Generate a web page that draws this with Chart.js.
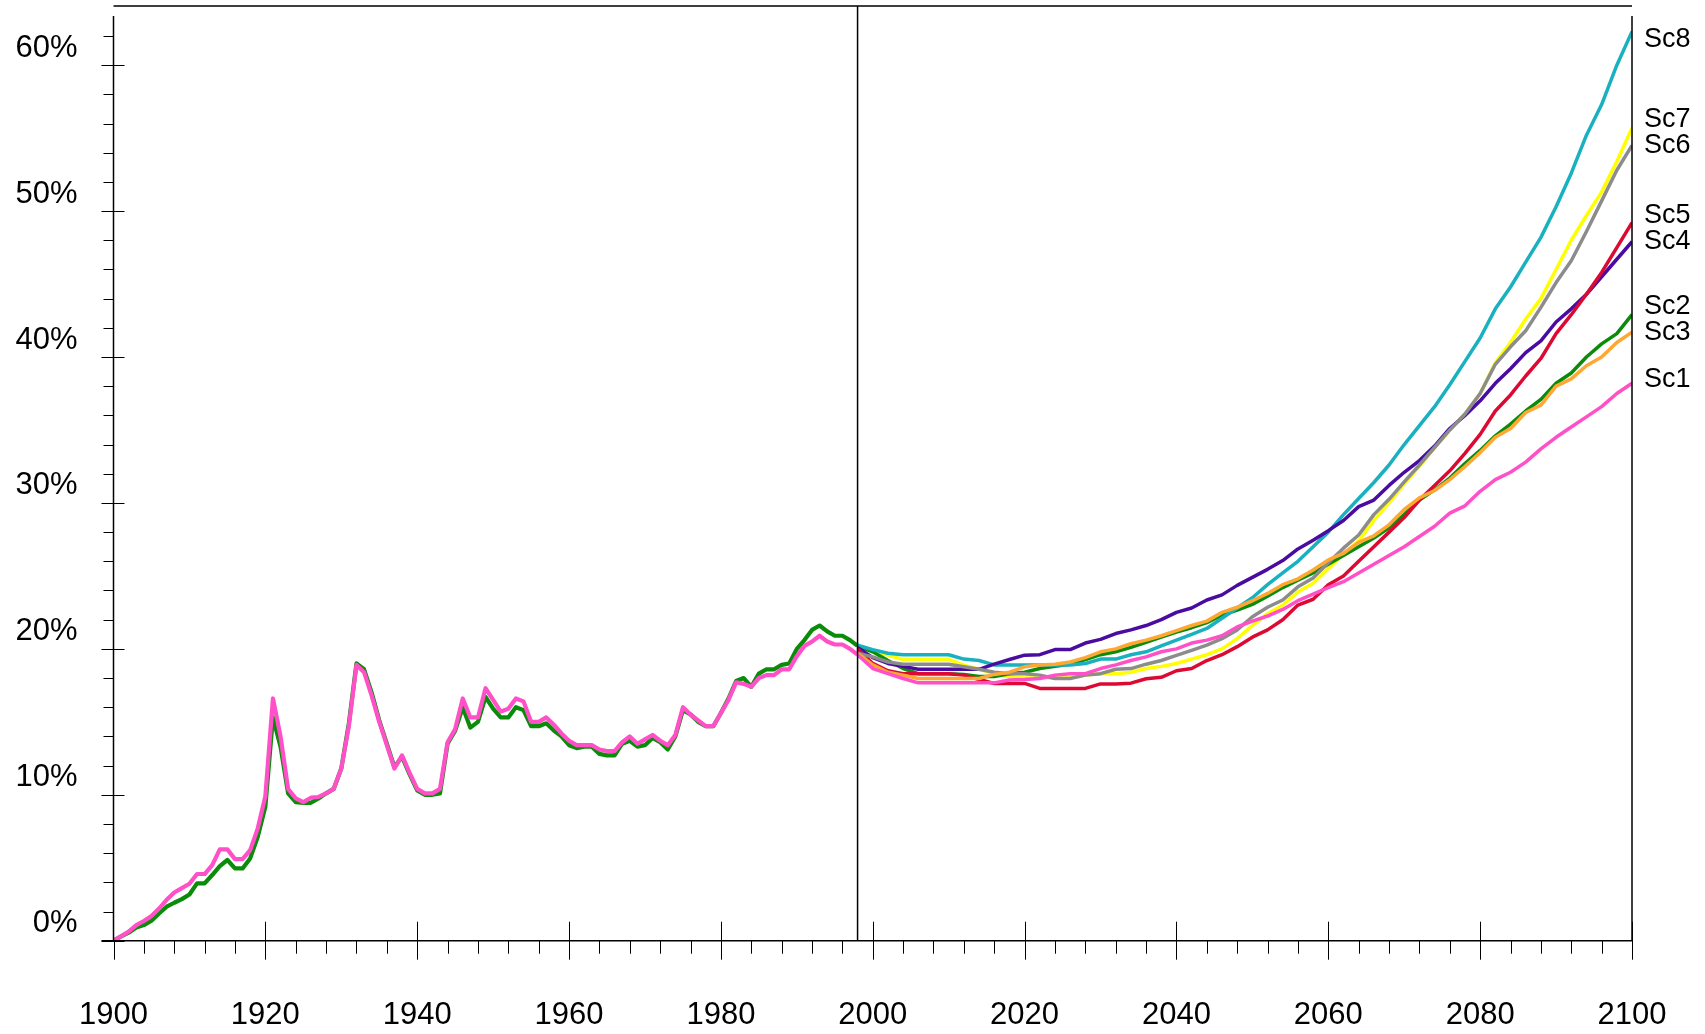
<!DOCTYPE html>
<html>
<head>
<meta charset="utf-8">
<script src="https://cdn.jsdelivr.net/npm/chart.js@4.4.0/dist/chart.umd.min.js"></script>
<style>
    html, body { margin: 0; padding: 0; background: #fff; }
    #wrap { width: 1705px; height: 1034px; }
</style>
</head>
<body>
<div id="wrap"><canvas id="chart" width="1705" height="1034"></canvas></div>
<script>
// Historical share, one value per year 1900-1998
const histStart = 1900;
const histPink = [
    0, 0.3, 0.62, 1.07, 1.35, 1.69, 2.2, 2.8, 3.3, 3.6,
    3.9, 4.57, 4.57, 5.18, 6.26, 6.26, 5.59, 5.59, 6.21, 7.7,
    9.9, 16.6, 14.0, 10.4, 9.75, 9.5, 9.8, 9.85, 10.1, 10.4,
    11.8, 14.7, 18.9, 18.4, 16.8, 15.0, 13.4, 11.8, 12.7, 11.5,
    10.4, 10.1, 10.1, 10.4, 13.6, 14.5, 16.6, 15.3, 15.3, 17.3,
    16.5, 15.7, 15.9, 16.6, 16.4, 15.0, 15.0, 15.3, 14.8, 14.2,
    13.7, 13.4, 13.4, 13.4, 13.1, 13.0, 13.0, 13.6, 14.0, 13.5,
    13.8, 14.1, 13.7, 13.4, 14.1, 16.0, 15.5, 15.1, 14.7, 14.7,
    15.6, 16.5, 17.7, 17.6, 17.4, 18.0, 18.2, 18.2, 18.6, 18.6,
    19.5, 20.2, 20.5, 20.9, 20.5, 20.3, 20.3, 20.0, 19.6
];
const histGreen = [
    0, 0.3, 0.55, 0.91, 1.07, 1.37, 1.87, 2.33, 2.6, 2.85,
    3.17, 3.93, 3.93, 4.5, 5.11, 5.53, 4.95, 4.95, 5.64, 7.12,
    9.18, 15.3, 13.3, 10.1, 9.5, 9.45, 9.45, 9.75, 10.1, 10.4,
    11.8, 14.9, 19.0, 18.6, 17.0, 15.1, 13.5, 11.9, 12.6, 11.4,
    10.3, 10.0, 10.0, 10.1, 13.5, 14.4, 16.0, 14.6, 15.0, 16.7,
    15.9, 15.3, 15.3, 16.0, 15.8, 14.7, 14.7, 14.9, 14.4, 14.0,
    13.4, 13.2, 13.3, 13.3, 12.8, 12.7, 12.7, 13.5, 13.7, 13.3,
    13.4, 13.9, 13.6, 13.1, 14.0, 15.8, 15.5, 15.0, 14.7, 14.7,
    15.6, 16.6, 17.8, 18.0, 17.4, 18.3, 18.6, 18.6, 18.9, 19.0,
    20.0, 20.6, 21.3, 21.6, 21.2, 20.9, 20.9, 20.6, 20.2
];

// Projections
const projYears = [1998, 2000, 2002, 2004, 2006, 2008, 2010, 2012, 2014, 2016, 2018, 2020, 2022, 2024, 2026, 2028, 2030, 2032, 2034, 2036, 2038, 2040, 2042, 2044, 2046, 2048, 2050, 2052, 2054, 2056, 2058, 2060, 2062, 2064, 2066, 2068, 2070, 2072, 2074, 2076, 2078, 2080, 2082, 2084, 2086, 2088, 2090, 2092, 2094, 2096, 2098, 2100];
const sc1 = [19.6, 18.65, 18.3, 17.97, 17.67, 17.67, 17.67, 17.67, 17.67, 17.67, 17.86, 17.9, 17.97, 18.2, 18.3, 18.3, 18.65, 18.9, 19.2, 19.45, 19.8, 20.0, 20.4, 20.6, 20.9, 21.5, 21.9, 22.25, 22.7, 23.3, 23.75, 24.2, 24.6, 25.2, 25.8, 26.4, 27.0, 27.7, 28.4, 29.3, 29.8, 30.8, 31.6, 32.1, 32.8, 33.7, 34.5, 35.2, 35.9, 36.6, 37.5, 38.2];
const sc2 = [20.2, 19.8, 19.2, 18.65, 18.3, 18.3, 18.3, 18.25, 18.1, 18.1, 18.3, 18.4, 18.65, 18.8, 18.95, 19.27, 19.6, 19.8, 20.1, 20.45, 20.8, 21.15, 21.45, 21.8, 22.3, 22.65, 23.05, 23.6, 24.2, 24.7, 25.2, 25.8, 26.4, 27.0, 27.6, 28.3, 29.2, 30.2, 30.9, 31.7, 32.7, 33.6, 34.6, 35.4, 36.3, 37.1, 38.2, 38.9, 40.0, 40.9, 41.6, 42.9];
const sc3 = [19.7, 18.9, 18.4, 18.2, 17.97, 17.97, 17.97, 17.97, 17.97, 18.25, 18.4, 18.77, 18.9, 18.95, 19.1, 19.4, 19.8, 20.0, 20.35, 20.6, 20.9, 21.25, 21.6, 21.9, 22.5, 22.85, 23.3, 23.8, 24.4, 24.8, 25.4, 26.1, 26.55, 27.3, 27.75, 28.5, 29.55, 30.35, 30.85, 31.6, 32.5, 33.45, 34.5, 35.1, 36.2, 36.7, 38.0, 38.5, 39.4, 40.0, 41.0, 41.7];
const sc4 = [20.1, 19.4, 19.0, 18.8, 18.6, 18.6, 18.6, 18.6, 18.6, 18.95, 19.27, 19.57, 19.6, 19.95, 19.95, 20.4, 20.65, 21.05, 21.3, 21.6, 22.0, 22.5, 22.8, 23.35, 23.7, 24.35, 24.9, 25.45, 26.05, 26.85, 27.45, 28.1, 28.8, 29.75, 30.2, 31.2, 32.1, 32.9, 33.9, 35.1, 36.0, 37.0, 38.2, 39.2, 40.3, 41.1, 42.4, 43.3, 44.3, 45.5, 46.7, 47.9];
const sc5 = [20.0, 19.0, 18.5, 18.3, 18.3, 18.3, 18.3, 18.2, 17.9, 17.63, 17.63, 17.63, 17.29, 17.29, 17.29, 17.29, 17.6, 17.6, 17.65, 17.95, 18.05, 18.5, 18.65, 19.2, 19.6, 20.15, 20.8, 21.3, 22.0, 23.0, 23.4, 24.4, 25.0, 26.0, 27.0, 28.0, 29.0, 30.2, 31.2, 32.2, 33.4, 34.7, 36.3, 37.4, 38.7, 39.9, 41.6, 42.9, 44.3, 45.8, 47.5, 49.2];
const sc6 = [19.7, 19.45, 19.1, 18.95, 18.95, 18.95, 18.95, 18.77, 18.6, 18.4, 18.3, 18.3, 18.2, 17.97, 17.97, 18.2, 18.3, 18.6, 18.65, 18.95, 19.2, 19.55, 19.9, 20.25, 20.7, 21.3, 22.2, 22.85, 23.35, 24.25, 24.85, 25.9, 26.9, 27.8, 29.2, 30.25, 31.45, 32.6, 33.8, 35.0, 36.1, 37.5, 39.5, 40.7, 41.8, 43.4, 45.1, 46.6, 48.6, 50.7, 52.8, 54.5];
const sc7 = [20.2, 19.8, 19.57, 19.27, 19.27, 19.27, 19.27, 18.88, 18.6, 18.3, 18.1, 18.0, 18.0, 18.0, 18.0, 18.2, 18.3, 18.3, 18.4, 18.65, 18.8, 19.0, 19.3, 19.6, 20.0, 20.7, 21.6, 22.4, 23.0, 23.9, 24.5, 25.5, 26.5, 27.4, 28.8, 30.0, 31.3, 32.5, 33.8, 35.0, 36.1, 37.5, 39.6, 41.0, 42.6, 44.0, 46.0, 48.0, 49.7, 51.3, 53.4, 55.7];
const sc8 = [20.25, 19.95, 19.7, 19.6, 19.6, 19.6, 19.6, 19.3, 19.2, 18.9, 18.9, 18.9, 18.9, 18.9, 18.9, 19.0, 19.3, 19.3, 19.6, 19.8, 20.2, 20.6, 21.0, 21.4, 22.1, 22.8, 23.5, 24.4, 25.2, 26.0, 27.0, 28.0, 29.2, 30.3, 31.4, 32.6, 34.0, 35.3, 36.6, 38.1, 39.7, 41.3, 43.3, 44.8, 46.5, 48.2, 50.3, 52.6, 55.2, 57.3, 60.0, 62.3];

// Axis ticks
const xLabels = [1900, 1920, 1940, 1960, 1980, 2000, 2020, 2040, 2060, 2080, 2100];
const xMinorStep = 4;
const yLabels = [0, 10, 20, 30, 40, 50, 60];
const yMinorStep = 2;
const yMinorTop = 62;
const splitYear = 1998;

const colors = {
    sc1: '#ff50c8', sc2: '#0a8c0a', sc3: '#ffa733', sc4: '#4a0ca0',
    sc5: '#dc0a32', sc6: '#8c8c8c', sc7: '#ffff00', sc8: '#19b0c0'
};

const FONT = '"Liberation Sans", Arial, sans-serif';

function histPoints(values) {
    return values.map((v, i) => ({ x: histStart + i, y: v }));
}
function projPoints(values) {
    return values.map((v, i) => ({ x: projYears[i], y: v }));
}

const scenarios = [
    { name: 'Sc1', data: sc1 },
    { name: 'Sc2', data: sc2 },
    { name: 'Sc3', data: sc3 },
    { name: 'Sc4', data: sc4 },
    { name: 'Sc5', data: sc5 },
    { name: 'Sc6', data: sc6 },
    { name: 'Sc7', data: sc7 },
    { name: 'Sc8', data: sc8 }
];

function line(data, color, width) {
    return {
        data: data,
        borderColor: color,
        backgroundColor: color,
        borderWidth: width,
        pointRadius: 0,
        fill: false,
        tension: 0,
        borderJoinStyle: 'round'
    };
}

// first dataset ends up on top
const datasets = [
    line(histPoints(histPink), colors.sc1, 4.2),
    line(projPoints(sc1), colors.sc1, 3.5),
    line(projPoints(sc3), colors.sc3, 3.5),
    line(projPoints(sc6), colors.sc6, 3.5),
    line(projPoints(sc5), colors.sc5, 3.5),
    line(projPoints(sc4), colors.sc4, 3.5),
    line(projPoints(sc8), colors.sc8, 3.5),
    line(histPoints(histGreen), colors.sc2, 4.2),
    line(projPoints(sc2), colors.sc2, 3.5),
    line(projPoints(sc7), colors.sc7, 3.5)
];

// Frame, tick marks, the 1998 divider and the scenario names
const framePlugin = {
    id: 'framePlugin',
    afterDatasetsDraw(chart) {
        const { ctx, chartArea: a, scales: { x, y } } = chart;
        const y0 = y.getPixelForValue(0);
        const topLine = a.top - 10;
        ctx.save();
        ctx.strokeStyle = '#000';
        ctx.lineWidth = 1.5;
        ctx.beginPath();
        ctx.moveTo(a.left, a.top); ctx.lineTo(a.left, y0);
        ctx.moveTo(a.right, a.top); ctx.lineTo(a.right, y0);
        ctx.moveTo(a.left - 12, y0); ctx.lineTo(a.right, y0);
        ctx.moveTo(a.left, topLine); ctx.lineTo(a.right, topLine);
        const xs = x.getPixelForValue(splitYear);
        ctx.moveTo(xs, topLine); ctx.lineTo(xs, y0);
        ctx.stroke();

        ctx.lineWidth = 1;
        ctx.beginPath();
        // y ticks
        for (let v = 0; v <= yMinorTop; v += yMinorStep) {
            const py = Math.round(y.getPixelForValue(v)) + 0.5;
            if (yLabels.includes(v)) {
                ctx.moveTo(a.left - 12, py); ctx.lineTo(a.left + 11, py);
            } else {
                ctx.moveTo(a.left - 10, py); ctx.lineTo(a.left, py);
            }
        }
        // x ticks
        for (let yr = x.min; yr <= x.max; yr += xMinorStep) {
            const px = Math.round(x.getPixelForValue(yr)) + 0.5;
            if (xLabels.includes(yr)) {
                ctx.moveTo(px, y0 - (yr === x.min ? 0 : 19)); ctx.lineTo(px, y0 + 19);
            } else {
                ctx.moveTo(px, y0); ctx.lineTo(px, y0 + 13);
            }
        }
        ctx.stroke();

        // scenario names at the right end, pushed apart where they would overlap
        const items = scenarios.map(s => ({
            name: s.name,
            y: y.getPixelForValue(s.data[s.data.length - 1]) - 4
        })).sort((p, q) => p.y - q.y);
        const gap = 26;
        for (let k = 0; k < 30; k++) {
            for (let i = 0; i < items.length - 1; i++) {
                const d = items[i + 1].y - items[i].y;
                if (d < gap) {
                    const m = (gap - d) / 2;
                    items[i].y -= m;
                    items[i + 1].y += m;
                }
            }
        }
        items[0].y = Math.max(items[0].y, a.top + 24);
        ctx.fillStyle = '#000';
        ctx.font = '27px ' + FONT;
        ctx.textAlign = 'left';
        ctx.textBaseline = 'middle';
        items.forEach(it => ctx.fillText(it.name, a.right + 12, it.y));
        ctx.restore();
    }
};

function noPadding(s) {
    s.paddingTop = 0;
    s.paddingBottom = 0;
    s.paddingLeft = 0;
    s.paddingRight = 0;
}

new Chart(document.getElementById('chart'), {
    type: 'line',
    data: { datasets: datasets },
    options: {
        responsive: false,
        animation: false,
        events: [],
        layout: { padding: { top: 16, right: 73, left: 0, bottom: 0 } },
        plugins: { legend: { display: false }, tooltip: { enabled: false } },
        scales: {
            x: {
                type: 'linear',
                min: 1900,
                max: 2100,
                grid: { display: false, drawTicks: false },
                border: { display: false },
                afterBuildTicks: s => { s.ticks = xLabels.map(v => ({ value: v })); },
                afterFit: s => { s.height = 93.3; noPadding(s); },
                ticks: {
                    autoSkip: false,
                    maxRotation: 0,
                    padding: 56,
                    color: '#000',
                    font: { family: FONT, size: 31 },
                    callback: v => String(v)
                }
            },
            y: {
                type: 'linear',
                min: 0,
                max: 63.37,
                grid: { display: false, drawTicks: false },
                border: { display: false },
                afterBuildTicks: s => { s.ticks = yLabels.map(v => ({ value: v })); },
                afterFit: s => { s.width = 113.5; noPadding(s); },
                ticks: {
                    padding: 36,
                    labelOffset: -17,
                    color: '#000',
                    font: { family: FONT, size: 31 },
                    callback: v => v + '%'
                }
            }
        }
    },
    plugins: [framePlugin]
});
</script>
</body>
</html>
